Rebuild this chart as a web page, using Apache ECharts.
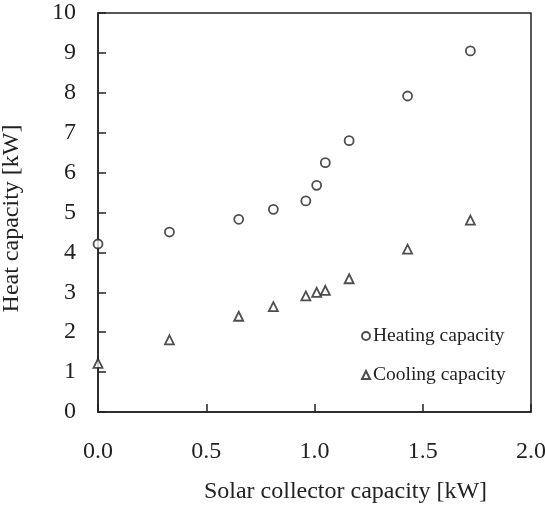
<!DOCTYPE html>
<html>
<head>
<meta charset="utf-8">
<script src="https://cdn.jsdelivr.net/npm/echarts@6/dist/echarts.min.js"></script>
<style>html,body{margin:0;padding:0;background:#fff;}#c{width:545px;height:508px;}</style>
</head>
<body>
<div id="c"></div>
<script>
var solarCapacity = [0, 0.33, 0.65, 0.81, 0.96, 1.01, 1.05, 1.16, 1.43, 1.72];
var heatingCapacity = [4.21, 4.51, 4.83, 5.08, 5.29, 5.68, 6.25, 6.80, 7.92, 9.05];
var coolingCapacity = [1.22, 1.81, 2.40, 2.64, 2.91, 3.00, 3.05, 3.34, 4.08, 4.81];
var seriesNames = ['Heating capacity', 'Cooling capacity'];
var xTitle = 'Solar collector capacity [kW]';
var yTitle = 'Heat capacity [kW]';

function pairs(xs, ys) { return xs.map(function (x, i) { return [x, ys[i]]; }); }
var FONT = '"Liberation Serif", "Times New Roman", serif';
var INK = '#222';

var chart = echarts.init(document.getElementById('c'), null, {renderer: 'canvas'});
chart.setOption({
  animation: false,
  backgroundColor: '#fff',
  textStyle: {fontFamily: FONT, color: INK},
  grid: {left: 98, top: 13, right: 14, bottom: 96, containLabel: false, outerBoundsMode: 'none',
         show: true, borderColor: INK, borderWidth: 1.5, backgroundColor: 'transparent'},
  legend: {
    orient: 'vertical', left: 356, top: 321,
    itemWidth: 8, itemHeight: 8, itemGap: 19,
    textStyle: {fontFamily: FONT, fontSize: 19.5, lineHeight: 19, color: INK, padding: [0, 0, 0, -2]},
    data: [
      {name: seriesNames[0], icon: 'circle'},
      {name: seriesNames[1], icon: 'triangle'}
    ]
  },
  xAxis: {
    type: 'value', min: 0, max: 2, interval: 0.5,
    name: xTitle, nameLocation: 'middle', nameGap: 68,
    nameTextStyle: {fontFamily: FONT, fontSize: 24, color: INK, padding: [0, 0, 0, 62]},
    axisLine: {show: true, lineStyle: {color: INK, width: 1.5}},
    axisTick: {show: true, inside: true, length: 8, lineStyle: {color: INK, width: 1.5}},
    axisLabel: {fontFamily: FONT, fontSize: 24, color: INK, margin: 28, formatter: function (v) { return v.toFixed(1); }},
    splitLine: {show: false}
  },
  yAxis: {
    type: 'value', min: 0, max: 10, interval: 1,
    name: yTitle, nameLocation: 'middle', nameGap: 74, nameRotate: 90,
    nameTextStyle: {fontFamily: FONT, fontSize: 24, color: INK, padding: [0, 12, 0, 0]},
    axisLine: {show: true, lineStyle: {color: INK, width: 1.5}},
    axisTick: {show: true, inside: true, length: 8, lineStyle: {color: INK, width: 1.5}},
    axisLabel: {fontFamily: FONT, fontSize: 24, color: INK, margin: 22},
    splitLine: {show: false}
  },
  series: [
    {
      name: seriesNames[0], type: 'scatter', symbol: 'circle', symbolSize: 9,
      itemStyle: {color: '#fff', borderColor: INK, borderWidth: 1.8},
      data: pairs(solarCapacity, heatingCapacity)
    },
    {
      name: seriesNames[1], type: 'scatter', symbol: 'triangle', symbolSize: 9,
      itemStyle: {color: '#fff', borderColor: INK, borderWidth: 1.8},
      data: pairs(solarCapacity, coolingCapacity)
    }
  ]
});
</script>
</body>
</html>
